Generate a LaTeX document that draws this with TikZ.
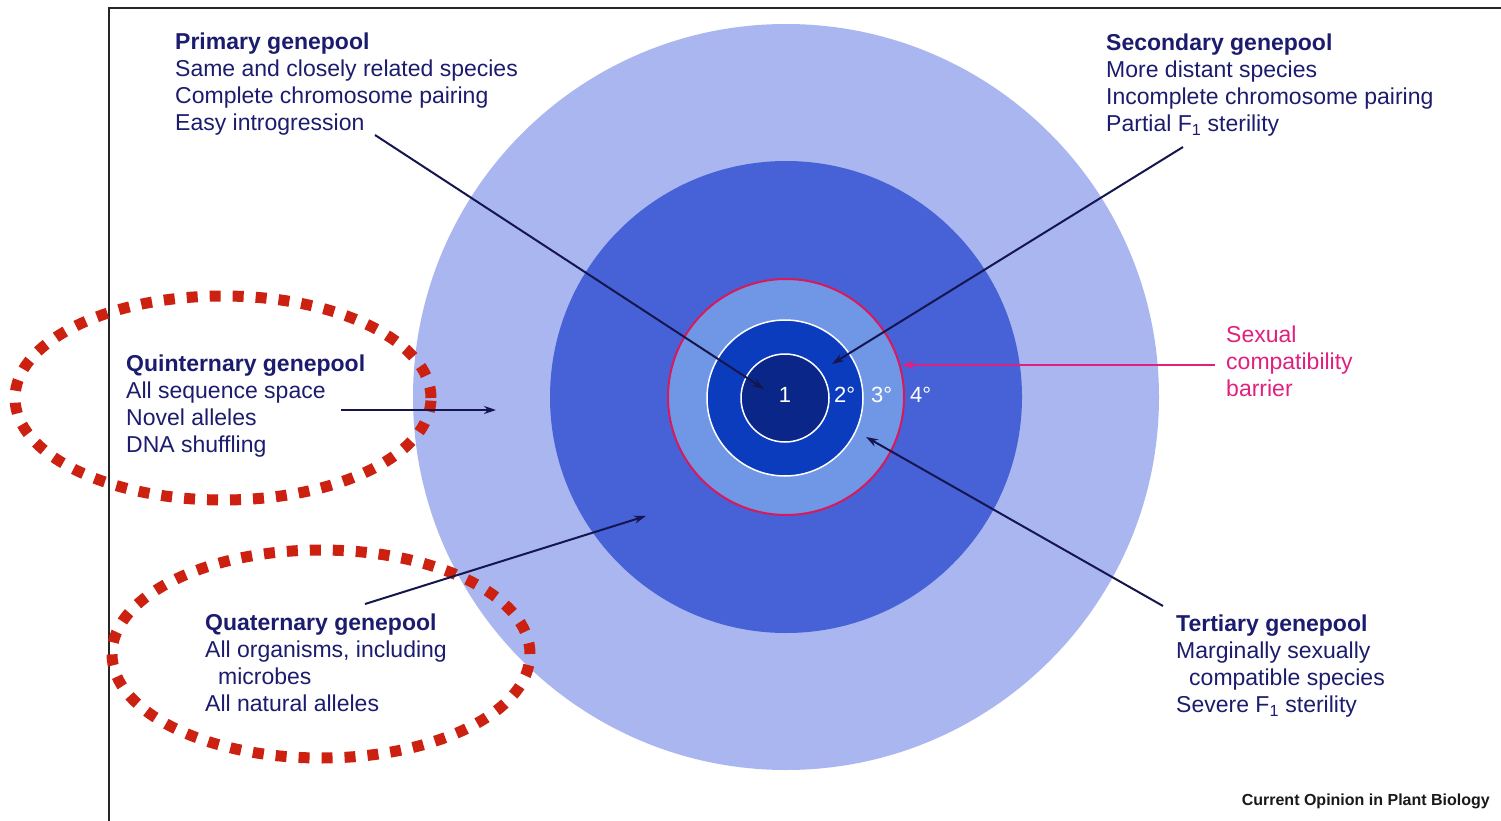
\documentclass[tikz,border=0pt]{standalone}
\usepackage{fontspec}
\setmainfont{Liberation Sans}
\usetikzlibrary{arrows.meta,shapes.geometric}
\definecolor{poolA}{HTML}{AAB6EF}
\definecolor{poolB}{HTML}{4662D6}
\definecolor{poolC}{HTML}{7096E6}
\definecolor{poolD}{HTML}{0C3CBE}
\definecolor{poolE}{HTML}{0A2688}
\definecolor{navy}{HTML}{1C1C6E}
\definecolor{arrownavy}{HTML}{16164F}
\definecolor{barrier}{HTML}{D8195A}
\definecolor{magentatxt}{HTML}{E0207F}
\definecolor{dotred}{HTML}{CC2010}
\begin{document}
\begin{tikzpicture}[x=1pt,y=-1pt,
  disc/.style={circle,inner sep=0pt,draw=none},
  txt/.style={inner sep=0pt,anchor=north west,align=left,text=navy,
    font=\fontsize{23}{27}\selectfont},
  num/.style={inner sep=0pt,text=white,font=\fontsize{22}{25}\selectfont},
  pointer/.style={draw=arrownavy,line width=2pt,-{Stealth[length=12pt,width=8pt]}},
  redring/.style={ellipse,draw=dotred,line width=11pt,dash pattern=on 11pt off 12pt,inner sep=0pt},
  frame/.style={draw=black!85,line width=2pt}]
\useasboundingbox (0,0) rectangle (1501,821);
\fill[white] (0,0) rectangle (1501,821);
% frame
\draw[frame] (109,821) -- (109,8) -- (1501,8);
% circles
\node[disc,fill=poolA,minimum size=746pt] (c5) at (786,397) {};
\node[disc,fill=poolB,minimum size=472pt] (c4) at (786,397) {};
\node[disc,fill=poolC,draw=barrier,line width=2pt,minimum size=236pt] (c3) at (786,397) {};
\node[disc,fill=poolD,draw=white,line width=1.5pt,minimum size=156pt] (c2) at (785,398) {};
\node[disc,fill=poolE,draw=white,line width=1.5pt,minimum size=88pt] (c1) at (785,398) {};
% ring numbers
\node[num,anchor=base] (n1) at (785,402) {1};
\node[num,anchor=base west] (n2) at (834,402) {2\textdegree};
\node[num,anchor=base west] (n3) at (871,402) {3\textdegree};
\node[num,anchor=base west] (n4) at (910,402) {4\textdegree};
% texts
\node[txt] (primary) at (175,33) {\textbf{Primary genepool}\\Same and closely related species\\Complete chromosome pairing\\Easy introgression};
\node[txt] (secondary) at (1106,34) {\textbf{Secondary genepool}\\More distant species\\Incomplete chromosome pairing\\Partial F\textsubscript{1} sterility};
\node[txt] (quint) at (126,355) {\textbf{Quinternary genepool}\\All sequence space\\Novel alleles\\DNA shuffling};
\node[txt] (quat) at (205,614) {\textbf{Quaternary genepool}\\All organisms, including\\\hspace*{13pt}microbes\\All natural alleles};
\node[txt] (tert) at (1176,615) {\textbf{Tertiary genepool}\\Marginally sexually\\\hspace*{13pt}compatible species\\Severe F\textsubscript{1} sterility};
\node[txt,text=magentatxt] (sexual) at (1226,326) {Sexual\\compatibility\\barrier};
\node[inner sep=0pt,anchor=base east,text=black!90,font=\bfseries\fontsize{16}{20}\selectfont] (credit) at (1490,805) {Current Opinion in Plant Biology};
% red dotted ellipses
\node[redring,minimum width=416pt,minimum height=204pt] (ringQ5) at (223,398) {};
\node[redring,minimum width=418pt,minimum height=208pt] (ringQ4) at (321,654) {};
% pointer coordinates
\coordinate (pS) at (375,135);
\coordinate (pE) at (764,389);
\coordinate (sS) at (1183,147);
\coordinate (sE) at (832,364);
\coordinate (tS) at (1163,606);
\coordinate (tE) at (866,437);
\coordinate (qS) at (365,604);
\coordinate (qE) at (646,516);
\coordinate (vS) at (341,410);
\coordinate (vE) at (496,410);
\coordinate (bS) at (1215,365);
\coordinate (bE) at (902,365);
\draw[pointer] (pS) -- (pE);
\draw[pointer] (sS) -- (sE);
\draw[pointer] (tS) -- (tE);
\draw[pointer] (qS) -- (qE);
\draw[pointer] (vS) -- (vE);
\draw[pointer,draw=magentatxt] (bS) -- (bE);
\end{tikzpicture}
\end{document}
